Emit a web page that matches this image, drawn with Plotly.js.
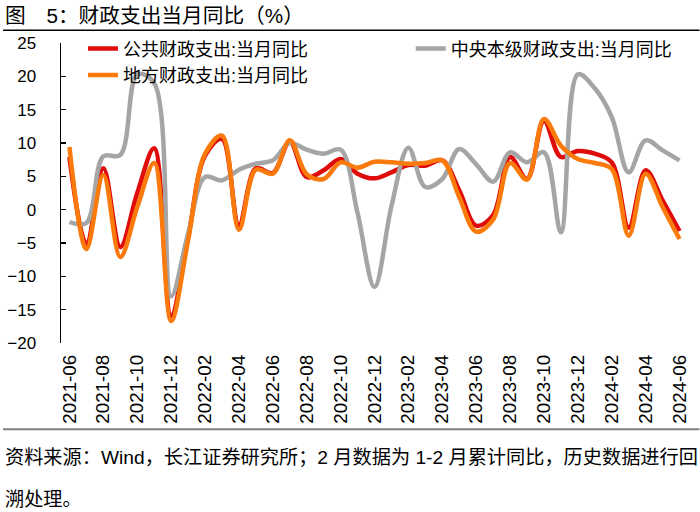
<!DOCTYPE html>
<html>
<head>
<meta charset="utf-8">
<script src="https://cdn.plot.ly/plotly-3.0.1.min.js"></script>
<style>html,body{margin:0;padding:0;background:#fff;}#chart{width:700px;height:512px;}</style>
</head>
<body>
<div id="chart"></div>
<script>
// ---- data ----
const months = ["2021-06","2021-07","2021-08","2021-09","2021-10","2021-11","2021-12",
  "2022-01","2022-02","2022-03","2022-04","2022-05","2022-06","2022-07","2022-08","2022-09","2022-10","2022-11","2022-12",
  "2023-01","2023-02","2023-03","2023-04","2023-05","2023-06","2023-07","2023-08","2023-09","2023-10","2023-11","2023-12",
  "2024-01","2024-02","2024-03","2024-04","2024-05","2024-06"];
const publicExp = [7.9,-5.1,6.2,-5.6,2.5,9.2,-15.9,
  -4.2,8.1,10.6,-2.3,6.2,5.5,10.2,4.9,5.9,7.6,5.4,4.7,
  5.6,6.7,6.6,7.4,2.9,-2.4,-0.8,7.9,4.6,13.3,7.9,8.8,
  8.4,7.1,-2.7,5.9,1.4,-3.2];
const centralExp = [-1.85,-2.0,8.0,8.2,20.3,19.0,-13.0,
  -3.6,4.9,4.4,6.0,6.9,7.4,10.0,9.0,8.4,9.0,-0.5,-11.6,
  0.5,9.3,3.4,4.6,9.1,6.8,4.2,8.6,7.1,8.6,-3.4,20.3,
  18.2,13.9,5.6,10.4,8.9,7.4];
const localExp = [9.4,-5.9,5.2,-7.1,0.4,7.0,-16.7,
  -4.6,8.4,11.1,-3.0,6.0,5.4,10.4,5.3,4.6,7.1,6.3,7.2,
  7.1,6.9,7.0,7.4,1.9,-3.3,-1.5,7.0,4.5,13.6,9.6,7.6,
  7.0,6.1,-3.9,5.4,0.4,-4.4];
const seriesNames = ["公共财政支出:当月同比","中央本级财政支出:当月同比","地方财政支出:当月同比"];
const titleText = "图\u20035：财政支出当月同比（%）";
const noteLine1 = "资料来源：Wind，长江证券研究所；2 月数据为 1-2 月累计同比，历史数据进行回";
const noteLine2 = "溯处理。";

// ---- layout helpers (pixel -> paper) ----
const W = 700, H = 512;
const L = 61, R = 11.5, T = 42.7, B = 169.3;
const PW = W - L - R, PH = H - T - B;
const px = x => (x - L) / PW;
const py = y => (H - B - y) / PH;

const FONT = "'Liberation Sans', Arial, 'Noto Sans CJK SC', sans-serif";
const yMin = -20, yMax = 25;

const traces = [
  {x: months, y: publicExp, name: seriesNames[0], type: 'scatter', mode: 'lines',
   line: {color: '#E00B0B', width: 4.5, shape: 'spline', smoothing: 1}, legend: 'legend'},
  {x: months, y: centralExp, name: seriesNames[1], type: 'scatter', mode: 'lines',
   line: {color: '#A5A5A5', width: 4.5, shape: 'spline', smoothing: 1}, legend: 'legend2'},
  {x: months, y: localExp, name: seriesNames[2], type: 'scatter', mode: 'lines',
   line: {color: '#FA7A0C', width: 4.5, shape: 'spline', smoothing: 1}, legend: 'legend'}
];

const layout = {
  width: W, height: H,
  margin: {l: L, r: R, t: T, b: B, pad: 0},
  paper_bgcolor: '#fff', plot_bgcolor: '#fff',
  font: {family: FONT, color: '#000', size: 17},
  title: {text: titleText, x: 5 / W, xanchor: 'left', xref: 'container',
          y: 1 - 16 / H, yanchor: 'middle', yref: 'container',
          font: {family: FONT, size: 20.7, color: '#000'}},
  xaxis: {type: 'category', range: [-0.5, months.length - 0.5], tickmode: 'linear', tick0: 0, dtick: 2,
          tickangle: -90, ticks: '', showline: false, showgrid: false, zeroline: false,
          tickfont: {family: FONT, size: 18.8, color: '#000'}, ticklabelstandoff: 7, fixedrange: true},
  xaxis2: {overlaying: 'x', anchor: 'free', position: (0 - yMin) / (yMax - yMin), side: 'bottom',
           type: 'linear', range: [-0.5, months.length - 0.5], tickmode: 'linear', tick0: 1.5, dtick: 2,
           showticklabels: false, ticks: 'inside', ticklen: 5, tickwidth: 1.5, tickcolor: '#000',
           showline: true, linecolor: '#000', linewidth: 1.5, showgrid: false, zeroline: false},
  yaxis: {range: [yMin, yMax], dtick: 5, tick0: 0, ticks: 'inside', ticklen: 5, tickwidth: 1.5, tickcolor: '#000',
          showline: true, linecolor: '#000', linewidth: 1.5, showgrid: false, zeroline: false,
          tickfont: {family: FONT, size: 17, color: '#000'}, ticklabelstandoff: 20},
  showlegend: true,
  legend: {x: px(83), xanchor: 'left', y: py(30), yanchor: 'top', orientation: 'v',
           bgcolor: 'rgba(0,0,0,0)', font: {family: FONT, size: 18, color: '#000'}, tracegroupgap: 0, itemwidth: 30},
  legend2: {x: px(411), xanchor: 'left', y: py(30), yanchor: 'top', orientation: 'v',
           bgcolor: 'rgba(0,0,0,0)', font: {family: FONT, size: 18, color: '#000'}, itemwidth: 30},
  shapes: [
    {type: 'line', xref: 'paper', yref: 'paper', x0: px(3), x1: px(700), y0: py(30), y1: py(30),
     line: {color: '#000', width: 1.5}},
    {type: 'line', xref: 'paper', yref: 'paper', x0: px(3), x1: px(700), y0: py(429), y1: py(429),
     line: {color: '#7F7F7F', width: 2}}
  ],
  annotations: [
    {text: noteLine1, xref: 'paper', yref: 'paper', x: px(3), y: py(457), xanchor: 'left', yanchor: 'middle',
     showarrow: false, font: {family: FONT, size: 19.2, color: '#000'}},
    {text: noteLine2, xref: 'paper', yref: 'paper', x: px(3), y: py(499), xanchor: 'left', yanchor: 'middle',
     showarrow: false, font: {family: FONT, size: 19.2, color: '#000'}}
  ]
};

Plotly.newPlot('chart', traces, layout, {staticPlot: true, displayModeBar: false});
</script>
</body>
</html>
